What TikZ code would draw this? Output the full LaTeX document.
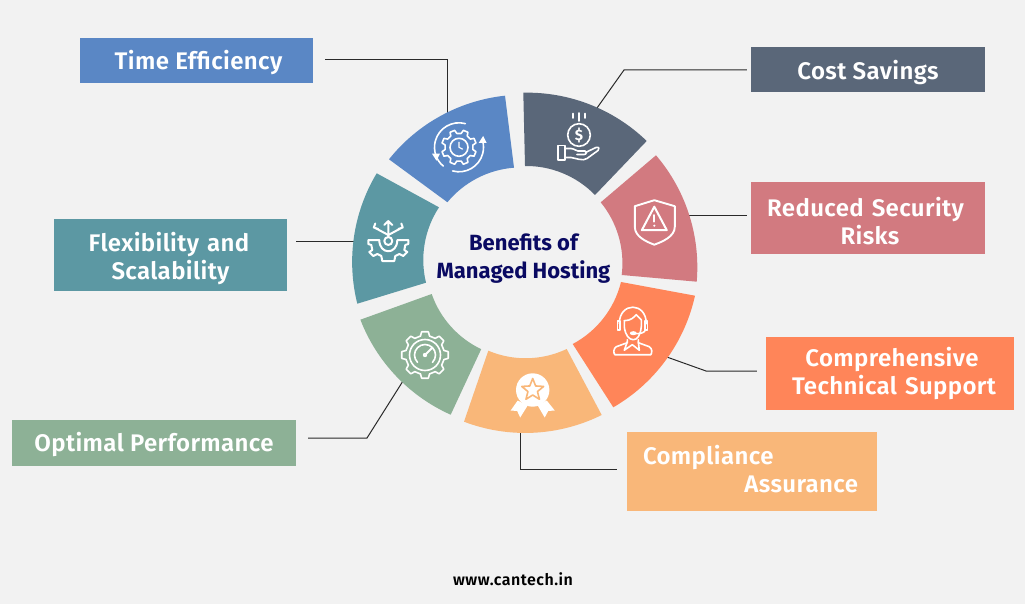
\documentclass[tikz,border=0pt]{standalone}
\usepackage{fontspec}
\setmainfont{Fira Sans}[UprightFont=* SemiBold,BoldFont=* Bold]
\usetikzlibrary{calc}
\definecolor{bgc}{HTML}{F2F2F2}
\definecolor{cblue}{HTML}{5A87C5}
\definecolor{cslate}{HTML}{5A6779}
\definecolor{cred}{HTML}{D27A80}
\definecolor{corange}{HTML}{FF8559}
\definecolor{cpeach}{HTML}{F9B779}
\definecolor{cgreen}{HTML}{8DB196}
\definecolor{cteal}{HTML}{5C98A3}
\definecolor{cnavy}{HTML}{0A0A62}
\definecolor{cline}{HTML}{2A2A2A}
\tikzset{
  label box/.style={inner sep=0pt,text=white,font=\fontsize{24}{28}\selectfont\addfontfeature{LetterSpace=1.6}},
  conn/.style={draw=cline,line width=1pt},
  ico/.style={draw=white,line width=1.6pt,line join=round,line cap=round},
}
% arc of radius R, clockwise on screen from a to b
\newcommand\arccalc[5]{%
  \pgfmathsetmacro\ddx{#3-#1}\pgfmathsetmacro\ddy{#4-#2}%
  \pgfmathsetmacro\cc{veclen(\ddx,\ddy)}%
  \pgfmathsetmacro\qq{\cc/(2*#5)}%
  \pgfmathsetmacro\hh{#5*sqrt(1-\qq*\qq)}%
  \pgfmathsetmacro\ccx{(#1+#3)/2-\hh*(\ddy/\cc)}%
  \pgfmathsetmacro\ccy{(#2+#4)/2+\hh*(\ddx/\cc)}%
  \pgfmathsetmacro\aS{atan2(#2-\ccy,#1-\ccx)}%
  \pgfmathsetmacro\aE{atan2(#4-\ccy,#3-\ccx)}%
  \pgfmathsetmacro\aD{\aE-\aS}%
  \pgfmathsetmacro\aD{\aD<0?\aD+360:\aD}%
}
\newcommand\ringseg[9]{%
  \arccalc{#2}{#3}{#4}{#5}{172}\let\oS\aS\let\oD\aD
  \arccalc{#8}{#9}{#6}{#7}{96}\let\iE\aE\let\iD\aD
  \fill[#1] (#2,#3) arc[start angle=\oS,delta angle=\oD,radius=172]
    -- (#6,#7) arc[start angle=\iE,delta angle=-\iD,radius=96] -- cycle;
}
% closed gear outline: radius out, radius in, teeth, phase
\newcommand\gearline[4]{%
  \pgfmathsetmacro\stp{360/#3}%
  \draw[ico] (#4-0.30*\stp:#2) \foreach \k in {1,...,#3} {
    \pgfextra{\pgfmathsetmacro\ang{#4+(\k-1)*\stp}}
    -- (\ang-0.18*\stp:#1) -- (\ang+0.18*\stp:#1) -- (\ang+0.30*\stp:#2) -- (\ang+0.70*\stp:#2)
  } -- cycle;
}
\newcommand\lowered[2]{\raisebox{-#1}[\height][\depth]{#2}}
\begin{document}
\begin{tikzpicture}[x=1pt,y=1pt,yscale=-1]
\useasboundingbox (0,0) rectangle (1025,604);
\fill[bgc] (0,0) rectangle (1025,604);

% boxes
\node[label box,fill=cblue,minimum width=233pt,minimum height=45pt] (timebox) at (196.5,60.5) {\hspace*{4pt}\lowered{2pt}{Time Efficiency}};
\node[label box,fill=cslate,minimum width=234pt,minimum height=45pt] (costbox) at (868,69.5) {\lowered{3pt}{Cost Savings}};
\node[label box,fill=cred,minimum width=234pt,minimum height=72pt,text width=234pt,align=center] (riskbox) at (868,218) {\hspace*{-5pt}\lowered{3pt}{Reduced Security}\\\hspace*{4pt}\lowered{3pt}{Risks}};
\node[label box,fill=corange,minimum width=248pt,minimum height=73pt,text width=248pt,align=center] (supportbox) at (890,373.5) {\hspace*{4pt}Comprehensive\\\hspace*{8pt}Technical Support};
\node[label box,fill=cpeach,minimum width=250pt,minimum height=79pt,text width=218pt,align=left] (compbox) at (752,471.5) {Compliance\\\hspace*{\fill}Assurance\hspace*{3pt}\vspace*{4pt}};
\node[label box,fill=cgreen,minimum width=284pt,minimum height=46pt] (perfbox) at (154,443) {\lowered{2pt}{Optimal Performance}};
\node[label box,fill=cteal,minimum width=233pt,minimum height=72pt,text width=233pt,align=center] (flexbox) at (170.5,255) {\hspace*{-3pt}\lowered{4pt}{Flexibility and}\\\lowered{4pt}{Scalability}};

% connector ends on the ring and elbows
\coordinate (timeE) at (447,60); \coordinate (timeR) at (447,114);
\coordinate (costE) at (624,70); \coordinate (costR) at (597,108);
\coordinate (riskR) at (688,216);
\coordinate (suppE) at (706,371); \coordinate (suppR) at (664,356);
\coordinate (compE) at (520,469); \coordinate (compR) at (520,430);
\coordinate (perfE) at (367,438); \coordinate (perfR) at (403,381);
\coordinate (flexR) at (357,241);
\draw[conn,shorten <=12pt] (timebox.east |- timeE) -- (timeE) -- (timeR);
\draw[conn,shorten <=4pt] (costbox.west |- costE) -- (costE) -- (costR);
\draw[conn,shorten <=4pt] (riskbox.west |- riskR) -- (riskR);
\draw[conn,shorten <=9pt] (supportbox.west |- suppE) -- (suppE) -- (suppR);
\draw[conn,shorten <=10pt] (compbox.west |- compE) -- (compE) -- (compR);
\draw[conn,shorten <=12pt] (perfbox.east |- perfE) -- (perfE) -- (perfR);
\draw[conn,shorten <=9pt] (flexbox.east |- flexR) -- (flexR);

% ring
\ringseg{cblue}{389}{159.3}{505}{95.7}{514}{167.7}{447.3}{202.3}
\ringseg{cslate}{523.3}{92.7}{646.7}{141}{595}{195}{525}{166}
\ringseg{cred}{656}{155.3}{696.7}{281.7}{621.7}{275}{600.7}{202.3}
\ringseg{corange}{695}{295.7}{613.3}{407.3}{572.7}{344}{621}{282}
\ringseg{cpeach}{601.7}{415}{464}{421.7}{488.3}{350.7}{566.7}{349}
\ringseg{cgreen}{450.7}{414.7}{360}{319.3}{431.7}{294}{481.3}{349.3}
\ringseg{cteal}{357.3}{303.7}{376.7}{173.3}{439}{207.3}{426}{282.7}

% icon: time
\begin{scope}[shift={(459,147.3)}]
  \draw[ico] (-75:24.5) arc[start angle=-75,delta angle=-125,radius=24.5];
  \draw[ico] (-200:24.5) arc[start angle=-200,delta angle=-30,radius=24.5];
  \draw[ico] (105:24.5) arc[start angle=105,delta angle=-120,radius=24.5];
  \fill[white] (-15:24.5) ++(-4,2) -- ++(8,0) -- ++(-3.5,-7) -- cycle;
  \fill[white] (160:24.5) ++(-4,-2) -- ++(8,0) -- ++(-3.5,7) -- cycle;
  \gearline{17.5}{14}{8}{22.5}
  \draw[ico] (0,0) circle[radius=9];
  \draw[ico,line width=1.2pt] (0,-5) -- (0,0) -- (3.5,1.8);
\end{scope}

% icon: savings
\begin{scope}[shift={(579,135)}]
  \draw[ico] (0,0) circle[radius=11.3];
  \node[inner sep=0pt,text=white,font=\fontsize{15}{15}\selectfont\bfseries] (dollar) at (0,0) {\$};
  \draw[ico] (-6.3,-21.5) -- (-6.3,-17) (0,-22) -- (0,-14) (5.7,-21.5) -- (5.7,-17);
  \draw[ico] (-21.3,10.7) rectangle (-14,25);
  \draw[ico] (-14,13.5) -- (-8,13.5) .. controls (-4,14) and (-3,16) .. (-1,16) -- (6,16) .. controls (8,16) and (8,19.5) .. (5,19.5) -- (-2,19.5)
     (6.5,17.5) -- (17,12.5) .. controls (20,11.5) and (21,14) .. (19,15.5) -- (8,23.5) .. controls (6,25) and (3,25) .. (0,24.3) -- (-8,22.5) -- (-14,22.5);
\end{scope}

% icon: shield
\begin{scope}[shift={(654.3,221.7)}]
  \draw[ico,line width=1.9pt] (0,-21.5) -- (20.5,-15.5) -- (20.5,5) .. controls (20.5,15) and (8,20) .. (0,23) .. controls (-8,20) and (-19.5,15) .. (-19.5,5) -- (-19.5,-15.5) -- cycle;
  \draw[ico,line width=2pt] (0,-15) -- (12.5,8.5) -- (-12.5,8.5) -- cycle;
  \draw[ico,line width=2pt] (0,-6.5) -- (0,0);
  \fill[white] (0,4) circle[radius=1.2];
\end{scope}

% icon: support
\begin{scope}[shift={(632.3,321.7)}]
  \draw[ico] (-13,2) .. controls (-13,-20) and (14,-20) .. (14,2);
  \draw[ico] (-12.5,-1) rectangle (-15,8);
  \draw[ico] (15,-1) rectangle (12.5,8);
  \draw[ico] (-8,-1) .. controls (-1,-1) and (2,-5) .. (4,-7) .. controls (6,-5) and (8,-3) .. (9,-2);
  \draw[ico] (-8,-1) -- (-8,5) .. controls (-7,14) and (-3,18) .. (1,18) .. controls (5,18) and (8,14) .. (9,5) -- (9,-2);
  \draw[ico] (13,8) .. controls (13,11) and (8,12) .. (4,12);
  \fill[white] (1,11.5) ellipse[x radius=3.5,y radius=2];
  \draw[ico] (-5,18) -- (-5,21) -- (-16,25) .. controls (-19,27) and (-19,31) .. (-17.5,33) -- (18.5,33) .. controls (20,31) and (20,27) .. (17,25) -- (6,21) -- (6,18);
  \draw[ico] (-5,20) -- (-8,28.5) -- (0,23) -- (7,28.5) -- (6,20);
\end{scope}

% icon: award
\begin{scope}[shift={(532.7,390)}]
  \fill[white] (0,0) circle[radius=16.7];
  \draw[cpeach,line width=1.6pt,line join=round]
    (-90:11.5) -- (-54:5) -- (-18:11.5) -- (18:5) -- (54:11.5) -- (90:5) -- (126:11.5) -- (162:5) -- (198:11.5) -- (234:5) -- cycle;
  \fill[white] (-15,10.5) -- (-22,20.5) -- (-15.5,21) -- (-12.5,27.5) -- (-5,15.5) -- cycle;
  \fill[white] (14,10.5) -- (22,20.5) -- (15.5,21) -- (12,27.5) -- (5,15.5) -- cycle;
\end{scope}

% icon: performance
\begin{scope}[shift={(425,355)}]
  \gearline{23.5}{19.5}{8}{0}
  \draw[ico] (0,0) circle[radius=15.5];
  \draw[ico] (45:10.5) arc[start angle=45,delta angle=-270,radius=10.5];
  \draw[ico,line width=1.8pt] (0,0) -- (7,-7);
  \fill[white] (0,0) circle[radius=2.2];
\end{scope}

% icon: flexibility
\begin{scope}[shift={(388.3,241)},ico/.append style={line width=2pt}]
  \draw[ico] (0,0) circle[radius=4];
  \draw[ico] (0,-4) -- (0,-20) (-4,-16) -- (0,-20) -- (4,-16);
  \draw[ico] (0,-6) -- (-14,-13.5) (-13,-17.5) -- (-14.5,-13.5) -- (-10,-12);
  \draw[ico] (0,-6) -- (14,-13.5) (13,-17.5) -- (14.5,-13.5) -- (10,-12);
  \draw[ico] (-9,-1) -- (-20,-1) -- (-20,3) -- (-17,4) -- (-16,9) -- (-19,11) -- (-15,15) -- (-11,13) -- (-7,15) -- (-6,20) -- (6,20) -- (7,15) -- (11,13) -- (15,15) -- (19,11) -- (16,9) -- (17,4) -- (20,3) -- (20,-1) -- (9,-1)
     (-9,-1) .. controls (-9,14) and (9,14) .. (9,-1);
\end{scope}

% centre and footer
\node[inner sep=0pt,text=cnavy,align=center,font=\fontsize{22}{28.5}\selectfont\bfseries] (title) at (523.5,258.5) {Benefits of\\Managed Hosting};
\node[inner sep=0pt,text=black,font=\fontsize{16}{18}\selectfont\addfontfeature{LetterSpace=3}] (site) at (513,579) {www.cantech.in};
\end{tikzpicture}
\end{document}
